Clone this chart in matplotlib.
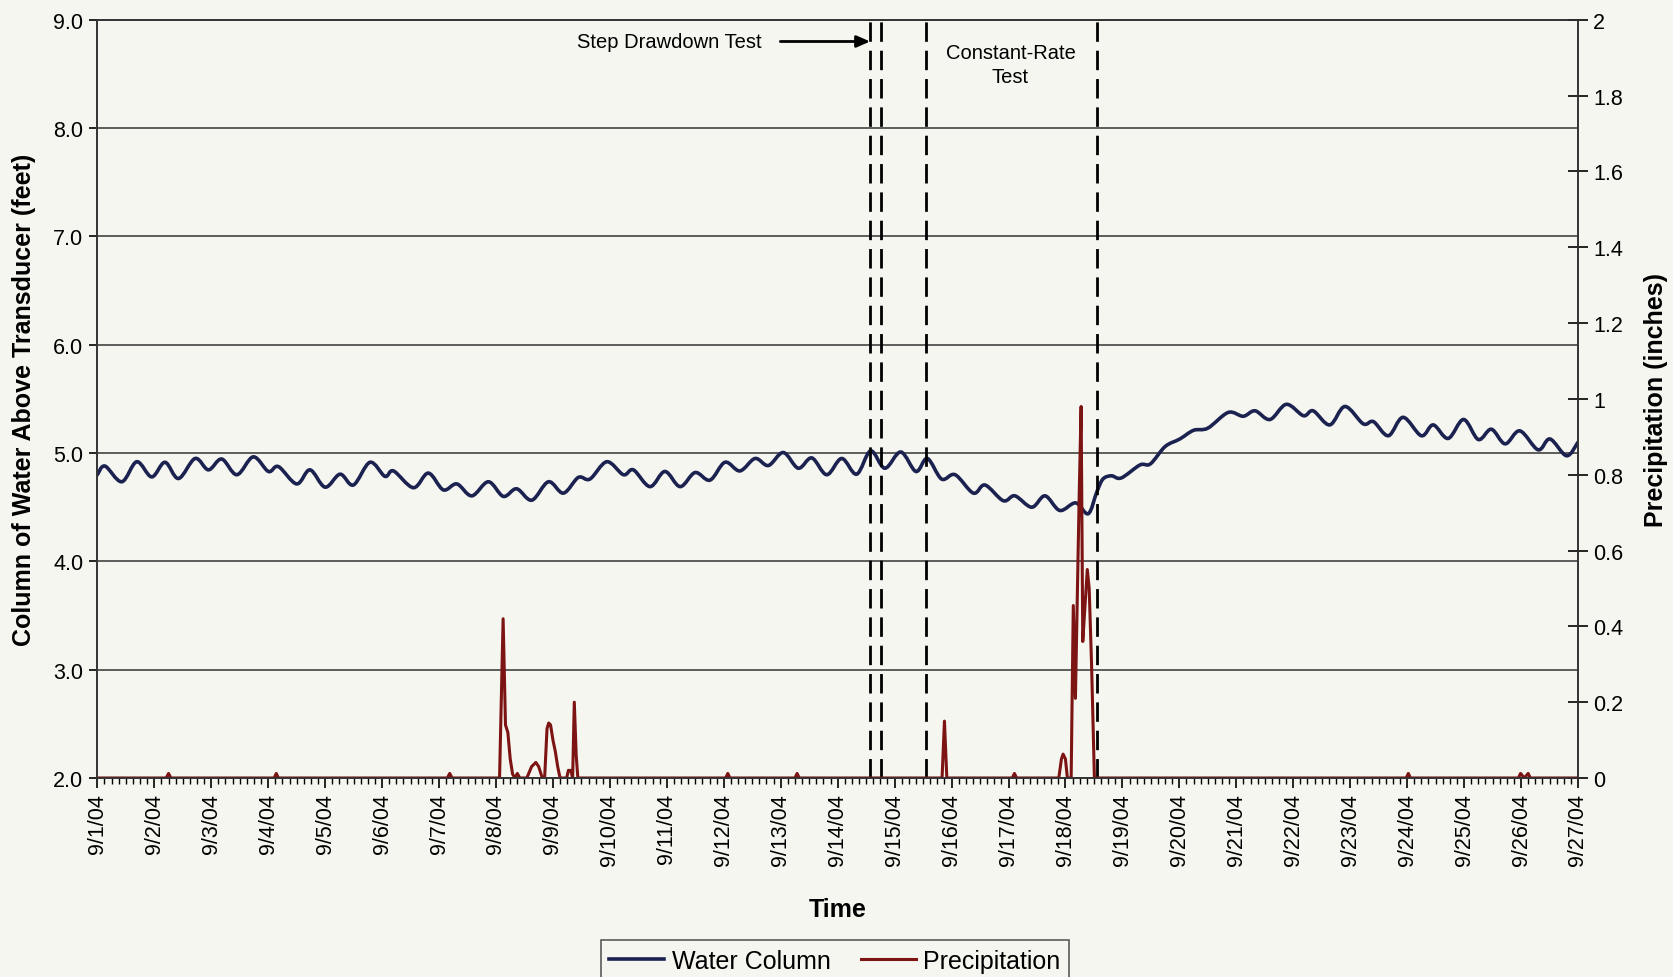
#Well hydrograph with rainfall, September 2004
import numpy as np
import pandas as pd
import matplotlib.pyplot as plt
import matplotlib.dates as mdates
from matplotlib.path import Path
from matplotlib.patches import PathPatch
from matplotlib.lines import Line2D
from matplotlib.ticker import FuncFormatter

plt.rcParams["font.family"] = ["Liberation Sans", "DejaVu Sans"]

START = pd.Timestamp("2004-09-01")

# water column above transducer (hours since 9/1/04 00:00, feet)
water_hours = [0, 3.2, 10.3, 16.6, 22.9, 28.5, 34.2, 41.2, 46.8, 52.4, 58.8, 65.7,
               72.1, 76.3, 84.0, 89.6, 96.0, 102.3, 107.9, 114.9, 121.2, 124.8,
               133.2, 139.5, 145.8, 151.5, 157.8, 164.8, 171.1, 176.7, 183.1,
               190.1, 196.4, 202.7, 207.6, 214.7, 221.7, 225.9, 232.9, 239.2,
               245.6, 251.9, 258.2, 264.5, 270.8, 277.2, 282.8, 289.1, 295.4,
               301.1, 307.4, 313.7, 320.0, 325.9, 331.9, 338.6, 345.0, 349.8,
               355.8, 361.5, 369.2, 374.1, 381.8, 386.7, 393.8, 399.4, 405.6,
               412.3, 417.6, 421.2, 423.8, 427.4, 431.5, 439.4, 443.8, 450.0,
               456.2, 462.0, 468.0, 476.6, 482.9, 487.9, 494.2, 501.1, 508.3,
               512.4, 519.4, 525.8, 533.5, 537.8, 544.1, 550.3, 558.0, 563.0,
               569.3, 575.8, 582.0, 587.5, 593.3, 599.5, 607.2, 612.2, 619.2, 624.0]
water_ft = [4.80, 4.88, 4.735, 4.92, 4.78, 4.915, 4.765, 4.95, 4.845, 4.945, 4.80, 4.965,
            4.83, 4.875, 4.715, 4.845, 4.685, 4.805, 4.705, 4.915, 4.785, 4.835,
            4.68, 4.815, 4.66, 4.715, 4.605, 4.735, 4.60, 4.67, 4.565,
            4.735, 4.63, 4.775, 4.76, 4.92, 4.80, 4.845, 4.69, 4.83,
            4.69, 4.82, 4.75, 4.915, 4.835, 4.95, 4.885, 5.005, 4.86,
            4.955, 4.80, 4.95, 4.805, 5.02, 4.86, 5.01, 4.83, 4.95,
            4.76, 4.80, 4.63, 4.705, 4.56, 4.605, 4.50, 4.605, 4.47,
            4.54, 4.44, 4.64, 4.76, 4.79, 4.77, 4.89, 4.90, 5.06,
            5.13, 5.21, 5.23, 5.375, 5.34, 5.39, 5.31, 5.45, 5.345,
            5.39, 5.26, 5.43, 5.27, 5.29, 5.16, 5.33, 5.16, 5.26,
            5.135, 5.31, 5.125, 5.22, 5.085, 5.205, 5.03, 5.13, 4.975, 5.10]

# rain gauge (hours since 9/1/04 00:00, inches)
rain_hours = [0, 29, 30, 31, 74.5, 75.4, 76.3, 147.5, 148.5, 149.5,
              169.5, 171, 172, 173, 174, 175, 176, 177, 178,
              181, 183, 184.8, 186, 187.5,
              188.5, 189.5, 190.2, 191, 192, 193, 194, 195,
              197.8, 198.5, 199.5, 200.3, 201, 201.8, 202.5,
              264.8, 265.7, 266.6, 294, 294.9, 295.8,
              356, 357, 358, 385.6, 386.5, 387.4,
              405.2, 406.3, 407, 408, 408.8,
              410.4, 411.3, 412.2, 413.8, 414.6, 415.3, 416.2, 417.2, 418.0, 419.0, 420.2,
              551.6, 552.5, 553.4, 598.9, 599.8, 601.4, 603, 603.9, 624]
rain_in = [0, 0, 0.012, 0, 0, 0.012, 0, 0, 0.012, 0,
           0, 0.42, 0.14, 0.12, 0.05, 0.01, 0, 0.012, 0,
           0, 0.03, 0.041, 0.03, 0,
           0, 0.13, 0.145, 0.14, 0.10, 0.07, 0.03, 0,
           0, 0.02, 0.02, 0, 0.20, 0.06, 0,
           0, 0.012, 0, 0, 0.012, 0,
           0, 0.15, 0, 0, 0.012, 0,
           0, 0.05, 0.063, 0.05, 0,
           0, 0.455, 0.21, 0.75, 0.98, 0.36, 0.45, 0.55, 0.50, 0.30, 0,
           0, 0.012, 0, 0, 0.012, 0, 0.012, 0, 0]

# pumping test start/stop times
test_marks = ["2004-09-14 13:40", "2004-09-14 18:15", "2004-09-15 13:15", "2004-09-18 13:15"]

day_labels = [f"9/{d}/04" for d in range(1, 28)]


def smooth_path(x, y):
    # spreadsheet-style "smoothed line": cubic Bezier pieces through every point
    pts = np.column_stack([x, y])
    n = len(pts)
    verts = [pts[0]]
    codes = [Path.MOVETO]
    for i in range(n - 1):
        p0 = pts[max(i - 1, 0)]
        p1 = pts[i]
        p2 = pts[i + 1]
        p3 = pts[min(i + 2, n - 1)]
        verts += [p1 + (p2 - p0) / 6, p2 - (p3 - p1) / 6, p2]
        codes += [Path.CURVE4] * 3
    return Path(verts, codes)


water_time = START + pd.to_timedelta(water_hours, unit="h")
rain_time = START + pd.to_timedelta(rain_hours, unit="h")
days = pd.date_range(START, periods=27, freq="D")

bg = "#f6f6f0"
water_color = "#1b2250"
rain_color = "#7c1414"

fig = plt.figure(figsize=(16.73, 9.78), dpi=100, facecolor=bg)
ax = fig.add_axes([0.0582, 0.2035, 0.885, 0.7752], facecolor=bg)
ax.set_xlim(days[0], days[-1])
ax2 = ax.twinx()

ax.add_patch(PathPatch(smooth_path(mdates.date2num(water_time), water_ft), fill=False,
                       edgecolor=water_color, lw=2.6, capstyle="round", joinstyle="round", zorder=2))
rline, = ax2.plot(rain_time, rain_in, color=rain_color, lw=2.2, solid_joinstyle="round",
                  label="Precipitation")

for m in test_marks:
    ax.axvline(pd.Timestamp(m), color="black", lw=2, linestyle=(0, (7, 3.2)), zorder=3)

# labels for the pumping tests
ax.text(pd.Timestamp("2004-09-12 16:00"), 8.8, "Step Drawdown Test", ha="right", va="center",
        fontsize=14.5)
ax.annotate("", xy=(pd.Timestamp(test_marks[0]), 8.8), xytext=(pd.Timestamp("2004-09-12 23:50"), 8.8),
            arrowprops=dict(arrowstyle="-|>,head_length=0.8,head_width=0.35", color="black", lw=2,
                            shrinkA=0, shrinkB=0))
ax.text(pd.Timestamp("2004-09-17 00:50"), 8.59, "Constant-Rate\nTest", ha="center", va="center",
        multialignment="center", fontsize=14.5, linespacing=1.35)

ax.set_xlim(days[0], days[-1])
ax.set_ylim(2.0, 9.0)
ax.set_yticks([2, 3, 4, 5, 6, 7, 8, 9])
ax.yaxis.set_major_formatter(FuncFormatter(lambda v, p: f"{v:.1f}"))
ax.grid(axis="y", color="#333333", lw=1.1)
ax.set_axisbelow(True)

ax.set_xticks(days)
ax.set_xticklabels(day_labels, rotation=90)
ax.xaxis.set_minor_locator(mdates.HourLocator(byhour=range(0, 24, 3)))
ax.tick_params(axis="x", which="major", length=7, width=1.2, labelsize=15.5, pad=4)
ax.tick_params(axis="x", which="minor", length=4, width=1.0)
ax.tick_params(axis="y", length=6, width=1.2, labelsize=15.5, pad=4)

ax2.set_ylim(0, 2)
ax2.set_yticks([i / 5 for i in range(11)])
ax2.yaxis.set_major_formatter(FuncFormatter(lambda v, p: f"{v:g}"))
ax2.tick_params(axis="y", direction="inout", length=14, width=1.2, labelsize=15.5, pad=4)

for a in (ax, ax2):
    for s in a.spines.values():
        s.set_color("#333333")
        s.set_linewidth(1.2)

ax.set_xlabel("Time", fontsize=18, fontweight="bold")
ax.xaxis.set_label_coords(0.5, -0.157)
ax.set_ylabel("Column of Water Above Transducer (feet)", fontsize=18, fontweight="bold")
ax.yaxis.set_label_coords(-0.0414, 0.5)
ax2.set_ylabel("Precipitation (inches)", fontsize=18, fontweight="bold")
ax2.yaxis.set_label_coords(1.0449, 0.5)

handles = [Line2D([], [], color=water_color, lw=2.6, label="Water Column"), rline]
leg = fig.legend(handles=handles, loc="upper center", bbox_to_anchor=(0.499, 0.0378),
                 borderaxespad=0, ncol=2, fontsize=18, frameon=True, fancybox=False,
                 facecolor=bg, edgecolor="#333333", handlelength=2.2, handletextpad=0.3,
                 columnspacing=1.2, borderpad=0.35)
leg.get_frame().set_linewidth(1.2)

fig.savefig("out.png", dpi=100, facecolor=bg)
